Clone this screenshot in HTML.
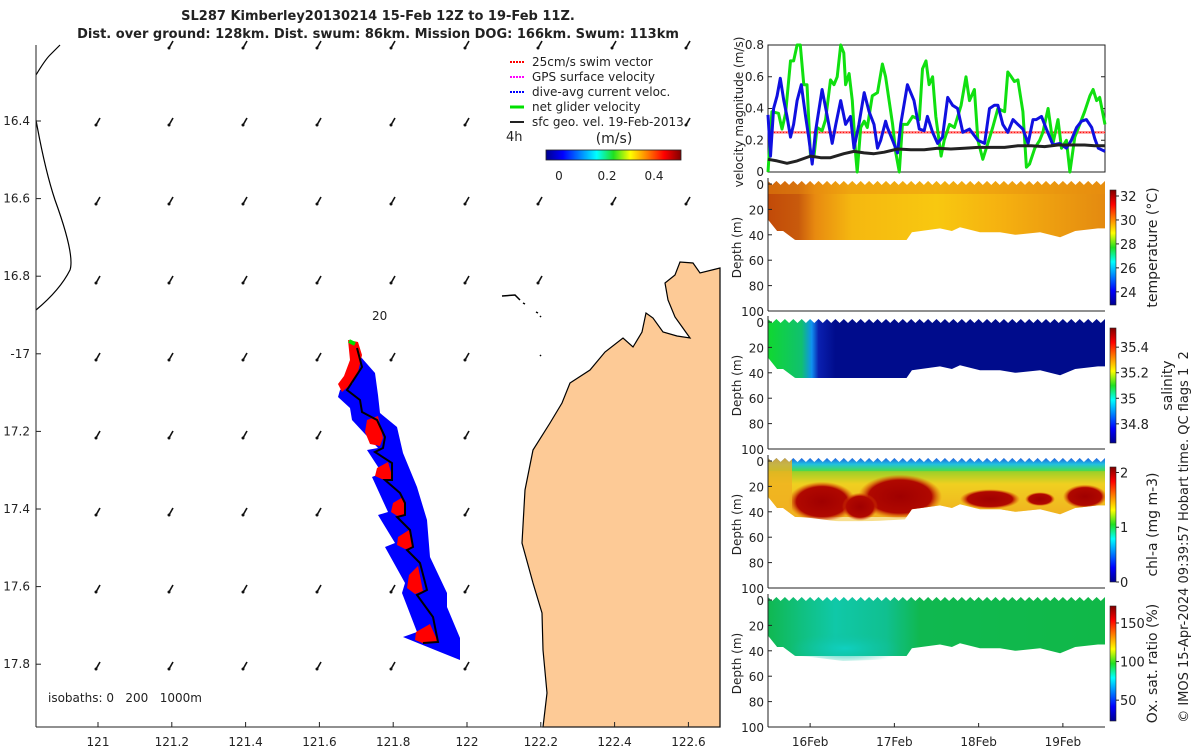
<!DOCTYPE html>
<html><head><meta charset="utf-8"><style>
body{margin:0;background:#fff;}
svg{display:block;font-family:"DejaVu Sans","Liberation Sans",sans-serif;}
text{fill:#222;}
</style></head><body>
<svg id="s" width="1200" height="750" viewBox="0 0 1200 750">
<defs>
<linearGradient id="jetV" x1="0" y1="1" x2="0" y2="0">
<stop offset="0" stop-color="#00008f"/><stop offset="0.125" stop-color="#0000ff"/><stop offset="0.375" stop-color="#00ffff"/><stop offset="0.5" stop-color="#20e020"/><stop offset="0.625" stop-color="#ffff00"/><stop offset="0.875" stop-color="#ff0000"/><stop offset="1" stop-color="#800000"/></linearGradient>
<linearGradient id="jetH" x1="0" y1="0" x2="1" y2="0">
<stop offset="0" stop-color="#00008f"/><stop offset="0.125" stop-color="#0000ff"/><stop offset="0.375" stop-color="#00ffff"/><stop offset="0.5" stop-color="#20e020"/><stop offset="0.625" stop-color="#ffff00"/><stop offset="0.875" stop-color="#ff0000"/><stop offset="1" stop-color="#800000"/></linearGradient>
<linearGradient id="tempG" x1="0" y1="0" x2="1" y2="0">
<stop offset="0" stop-color="#c24a08"/><stop offset="0.09" stop-color="#c85a0c"/><stop offset="0.14" stop-color="#e88a10"/><stop offset="0.25" stop-color="#f5b810"/><stop offset="0.5" stop-color="#f8c810"/><stop offset="0.7" stop-color="#f5b010"/><stop offset="1" stop-color="#e48a10"/></linearGradient>
<linearGradient id="salG" x1="0" y1="0" x2="1" y2="0">
<stop offset="0" stop-color="#10d830"/><stop offset="0.1" stop-color="#10c070"/><stop offset="0.13" stop-color="#1090f0"/><stop offset="0.15" stop-color="#0a20b0"/><stop offset="0.2" stop-color="#000c8c"/><stop offset="1" stop-color="#000c8c"/></linearGradient>
<linearGradient id="chlG" x1="0" y1="0" x2="0" y2="1">
<stop offset="0" stop-color="#2050e0"/><stop offset="0.12" stop-color="#20c0e0"/><stop offset="0.25" stop-color="#50e030"/><stop offset="0.45" stop-color="#f0e020"/><stop offset="1" stop-color="#f0a020"/></linearGradient>
<linearGradient id="oxG" x1="0" y1="0" x2="1" y2="0">
<stop offset="0" stop-color="#10b850"/><stop offset="0.1" stop-color="#10c080"/><stop offset="0.2" stop-color="#10c8a8"/><stop offset="0.35" stop-color="#10c090"/><stop offset="0.45" stop-color="#10b850"/><stop offset="1" stop-color="#10b848"/></linearGradient>
<radialGradient id="redB"><stop offset="0" stop-color="#a00000"/><stop offset="0.75" stop-color="#b00800"/><stop offset="1" stop-color="#e05000" stop-opacity="0"/></radialGradient>
<radialGradient id="oxB"><stop offset="0" stop-color="#10d0c0"/><stop offset="1" stop-color="#10c0a0" stop-opacity="0"/></radialGradient>
</defs>
<g id="title">
<text x="378" y="20" text-anchor="middle" font-size="13" font-weight="bold">SL287 Kimberley20130214 15-Feb 12Z to 19-Feb 11Z.</text>
<text x="378" y="38" text-anchor="middle" font-size="13" font-weight="bold">Dist. over ground: 128km. Dist. swum: 86km. Mission DOG: 166km. Swum: 113km</text>
</g>
<g id="map">
<path d="M720,268 L700,273 L693,263 L680,262 L675,275 L665,283 L668,300 L675,317 L690,338 L677,336 L663,332 L653,318 L646,313 L642,332 L633,347 L623,338 L605,352 L590,370 L570,383 L562,403 L550,423 L533,450 L525,490 L522,543 L533,583 L542,613 L543,650 L547,693 L543,727 L720,727 Z" fill="#fdca96" stroke="#000" stroke-width="1.2"/>
<path d="M502,296 L515,295 L520,300 M523,303 l2,1 M536,312 l2,1 M540,316 l1,1 M540,355 l1,1" stroke="#000" stroke-width="1.5" fill="none"/>
<path d="M36,75 Q45,60 50,55 L60,45" stroke="#000" fill="none" stroke-width="1.2"/>
<path d="M36,120 Q45,170 55,200 Q75,255 70,270 Q60,290 36,310" stroke="#000" fill="none" stroke-width="1.2"/>
<g id="arrows"></g>
<polygon points="353,348 375,373 378,395 380,413 397,427 403,453 417,487 427,520 430,557 447,593 447,607 460,638 460,660 440,652 403,637 417,632 402,593 405,583 385,547 395,543 378,515 388,512 372,477 382,473 367,450 378,448 352,420 350,408 338,397 340,390 353,383" fill="#0000ff"/>
<g fill="#ff0000">
<polygon points="348,340 358,342 362,355 358,372 350,385 342,392 338,384 344,376 350,360"/>
<polygon points="367,420 378,416 383,438 380,446 370,444 365,432"/>
<polygon points="377,468 388,462 393,479 386,481 375,476"/>
<polygon points="393,503 403,497 406,515 399,517 391,512"/>
<polygon points="398,537 409,530 413,548 405,549 397,545"/>
<polygon points="409,575 418,566 423,591 415,594 407,588"/>
<polygon points="416,632 430,624 438,642 425,644 415,640"/>
</g>
<path d="M349,341 L355,344" stroke="#00e000" stroke-width="4"/>
<polyline points="357,348 362,367 347,390 360,400 362,412 377,420 385,437 383,448 375,452 392,463 392,480 385,480 400,493 405,503 405,515 397,517 410,530 413,547 407,550 420,563 427,590 417,595 433,617 438,642 423,643" fill="none" stroke="#000" stroke-width="2"/>
<line x1="36" y1="45" x2="36" y2="727" stroke="#222"/>
<line x1="36" y1="727" x2="720" y2="727" stroke="#222"/>
<g id="mapticks" font-size="12"></g>
<text x="372" y="320" font-size="12">20</text>
<text x="48" y="702" font-size="12" xml:space="preserve" style="white-space:pre">isobaths: 0   200   1000m</text>
<g font-size="12">
<line x1="510" y1="62" x2="524" y2="62" stroke="#ff0000" stroke-width="2" stroke-dasharray="2,1"/><text x="532" y="66">25cm/s swim vector</text>
<line x1="510" y1="77" x2="524" y2="77" stroke="#ff00ff" stroke-width="2" stroke-dasharray="2,1"/><text x="532" y="81">GPS surface velocity</text>
<line x1="510" y1="92" x2="524" y2="92" stroke="#0000ff" stroke-width="2" stroke-dasharray="2,1"/><text x="532" y="96">dive-avg current veloc.</text>
<line x1="510" y1="107" x2="524" y2="107" stroke="#00e000" stroke-width="3"/><text x="532" y="111">net glider velocity</text>
<line x1="510" y1="122" x2="524" y2="122" stroke="#222" stroke-width="2"/><text x="532" y="126">sfc geo. vel. 19-Feb-2013</text>
<text x="506" y="141" font-size="13">4h</text>
<text x="614" y="143" text-anchor="middle" font-size="14">(m/s)</text>
<rect x="546" y="150" width="135" height="10" fill="url(#jetH)" stroke="#222" stroke-width="0.8"/>
<text x="559" y="180" text-anchor="middle">0</text><text x="607" y="180" text-anchor="middle">0.2</text><text x="654" y="180" text-anchor="middle">0.4</text>
</g>
</g>
<g id="vel"></g>
<g id="sections"></g>
<text transform="translate(1188,537) rotate(-90)" text-anchor="middle" font-size="13" xml:space="preserve" style="white-space:pre">© IMOS 15-Apr-2024 09:39:57 Hobart time. QC flags 1  2</text>
</svg>
<script>
// ---- velocity data (hours since 15-Feb 12Z) ----
const greenH=[0,1.1,3.0,4.0,5.0,6.4,7.3,8.3,9.2,10.2,11.1,12.1,13.1,14.0,15.4,16.4,17.8,18.8,19.7,20.7,21.6,22.1,23.1,24.0,25.0,25.4,26.4,27.4,28.3,29.7,31.2,32.6,33.5,34.5,35.5,36.4,37.4,38.3,39.7,41.2,43.1,44.0,45.0,45.9,46.9,47.8,49.3,50.2,51.7,53.1,55.0,56.4,57.4,58.8,59.8,61.2,62.6,64.0,65.5,67.4,68.3,69.3,70.2,71.2,72.6,73.6,74.5,76.0,77.4,78.3,79.8,81.2,82.6,83.6,85.0,86.0,87.4,88.8,90.2,91.7,92.6,93.6,94.5,96.0];
const greenV=[0,0.38,0.37,0.27,0.37,0.7,0.7,0.8,0.8,0.55,0.55,0.1,0.1,0.28,0.26,0.33,0.58,0.55,0.6,0.8,0.75,0.55,0.62,0.45,0.1,0.0,0.28,0.32,0.28,0.48,0.5,0.68,0.6,0.45,0.3,0.12,0,0.3,0.3,0.35,0.33,0.65,0.7,0.55,0.6,0.35,0.1,0.2,0.3,0.28,0.42,0.6,0.45,0.52,0.2,0.08,0.18,0.28,0.4,0.38,0.63,0.6,0.57,0.58,0.38,0.03,0.05,0.15,0.2,0.25,0.4,0.18,0.33,0.15,0.2,0.0,0.22,0.3,0.38,0.48,0.52,0.45,0.47,0.3];
const blueH=[0,0.7,1.6,2.6,3.5,4.5,5.4,6.4,7.3,8.3,9.5,10.7,11.6,12.6,13.5,15.4,16.9,18.3,19.3,20.7,22.1,23.5,24.5,25.9,27.4,28.8,30.2,31.2,32.1,33.5,34.0,35.5,36.9,37.8,39.7,41.6,43.1,44.5,45.4,46.9,48.3,49.7,51.2,52.6,54.0,55.5,57.4,59.8,61.7,63.1,64.5,65.5,66.9,68.3,69.8,71.2,72.6,74.1,75.5,76.4,77.9,79.3,81.2,83.1,85.0,86.4,87.9,89.3,90.7,92.2,93.1,94.1,96.0];
const blueV=[0.36,0.1,0.4,0.48,0.59,0.45,0.35,0.22,0.3,0.45,0.55,0.35,0.22,0.05,0.25,0.52,0.35,0.18,0.3,0.45,0.3,0.35,0.15,0.3,0.5,0.38,0.3,0.15,0.2,0.32,0.28,0.2,0.12,0.3,0.55,0.45,0.27,0.26,0.35,0.25,0.18,0.22,0.47,0.42,0.4,0.25,0.27,0.2,0.18,0.4,0.42,0.42,0.3,0.25,0.33,0.3,0.27,0.18,0.33,0.33,0.35,0.27,0.17,0.18,0.15,0.2,0.28,0.32,0.33,0.28,0.21,0.15,0.13];
const blackH=[0,2.6,5.4,8.3,12.1,15.0,17.8,21.6,24.5,27.4,30.2,33.1,36.9,40.7,44.5,48.3,52.1,55.9,59.8,63.6,67.4,71.2,75.0,78.8,82.6,86.4,90.2,93.1,96.0];
const blackV=[0.08,0.07,0.055,0.07,0.1,0.09,0.09,0.115,0.13,0.12,0.115,0.125,0.145,0.14,0.14,0.15,0.145,0.15,0.155,0.155,0.155,0.165,0.165,0.16,0.17,0.17,0.17,0.165,0.165];
const swimSpeed=0.25;
const velTicks=[0,0.2,0.4,0.6,0.8];
const dayTicksH=[12,36,60,84];
const dayLabels=["16Feb","17Feb","18Feb","19Feb"];
// ---- section data ----
const bottomH=[0,2.6,4.3,7.7,12.5,21.4,31.9,39.0,41.0,49.0,52.4,54.7,60.4,66.1,70.4,77.5,83.2,87.5,94.0,96];
const bottomD=[28,37,37,44,45,48,47,46,38,35,37,34,38,38,40,38,42,37,35,35];
const depthTicks=[0,20,40,60,80,100];
const tempTicks=[24,26,28,30,32], tempRange=[22.9,32.5];
const salTicks=[34.8,35,35.2,35.4], salRange=[34.65,35.55];
const chlTicks=[0,1,2], chlRange=[0,2.1];
const oxTicks=[50,100,150], oxRange=[23,172];
// map
const lonTicks=[121,121.2,121.4,121.6,121.8,122,122.2,122.4,122.6];
const latTicks=[16.4,16.6,16.8,17,17.2,17.4,17.6,17.8];
const latLabels=["16.4","16.6","16.8","-17","17.2","17.4","17.6","17.8"];

const NS="http://www.w3.org/2000/svg";
function mk(tag,attrs,parent){const e=document.createElementNS(NS,tag);for(const k in attrs)e.setAttribute(k,attrs[k]);parent.appendChild(e);return e;}
const lonX=v=>98+(v-121)/0.2*73.8;
const latY=v=>121+(v-16.4)/0.2*77.6;
const mt=document.getElementById('mapticks');
lonTicks.forEach(v=>{const x=lonX(v);mk('line',{x1:x,y1:727,x2:x,y2:722,stroke:'#222'},mt);const t=mk('text',{x:x,y:746,'text-anchor':'middle'},mt);t.textContent=String(v);

});
latTicks.forEach((v,i)=>{const y=latY(v);mk('line',{x1:36,y1:y,x2:41,y2:y,stroke:'#222'},mt);const t=mk('text',{x:30,y:y+4,'text-anchor':'end'},mt);t.textContent=latLabels[i];

});
const ag=document.getElementById('arrows');
const rows=[45,122,201,280,357,435,512,589,666];
const cols=[98,171,245,319,393,467,540,614,688];
function onLand(x,y){if(y>=280&&x>=614)return true;if(y>=357&&x>=540)return true;return false;}
rows.forEach((y,ri)=>cols.forEach((x,ci)=>{if(onLand(x,y))return;if(ri===0&&(ci===0))return;if((ri===1)&&(ci===6||ci===7))return;
const p=mk('path',{d:`M${x+2},${y-4} L${x-2},${y+3}`,stroke:'#111','stroke-width':1.6,fill:'none'},ag);


mk('circle',{cx:x-2,cy:y+3,r:1.5,fill:'#111'},ag);}));
const vg=document.getElementById('vel');
const VX0=768,VX1=1105,VY0=45,VY1=172;
const tx=h=>VX0+h/96*(VX1-VX0);
const vy=v=>VY1-v/0.8*(VY1-VY0);
mk('rect',{x:VX0,y:VY0,width:VX1-VX0,height:VY1-VY0,fill:'none',stroke:'#222'},vg);
velTicks.forEach(v=>{mk('line',{x1:VX0,y1:vy(v),x2:VX0+4,y2:vy(v),stroke:'#222'},vg);mk('line',{x1:VX1,y1:vy(v),x2:VX1-4,y2:vy(v),stroke:'#222'},vg);
const t=mk('text',{x:VX0-4,y:vy(v)+4,'text-anchor':'end','font-size':12},vg);t.textContent=v===0?'0':v.toFixed(1);

});
const yl=mk('text',{transform:'translate(743,112) rotate(-90)','text-anchor':'middle','font-size':12},vg);yl.textContent='velocity magnitude (m/s)';


function line(H,V,col,w,name){const n=Math.min(H.length,V.length);let d='';for(let i=0;i<n;i++)d+=(i?'L':'M')+tx(H[i]).toFixed(1)+','+vy(V[i]).toFixed(1);
const p=mk('path',{d:d,stroke:col,'stroke-width':w,fill:'none','stroke-linejoin':'round'},vg);

}
const sw=mk('line',{x1:VX0,x2:VX1,y1:vy(swimSpeed),y2:vy(swimSpeed),stroke:'#ff8080','stroke-width':2.5},vg);


mk('line',{x1:VX0,x2:VX1,y1:vy(swimSpeed),y2:vy(swimSpeed),stroke:'#ff0000','stroke-width':1,'stroke-dasharray':'1,2'},vg);
line(greenH,greenV,'#10e010',3,'net-glider-velocity-line');
line(blueH,blueV,'#1010e0',3,'dive-avg-current-line');
line(blackH,blackV,'#222',3,'surface-geostrophic-line');
const sg=document.getElementById('sections');
const panels=[
 {y0:184,fill:'url(#tempG)',ticks:tempTicks,range:tempRange,label:'temperature (°C)',lx:1157,name:'temperature'},
 {y0:322,fill:'url(#salG)',ticks:salTicks,range:salRange,label:'salinity',lx:1172,name:'salinity'},
 {y0:461,fill:'url(#chlG)',ticks:chlTicks,range:chlRange,label:'chl-a (mg m-3)',lx:1157,name:'chlorophyll'},
 {y0:600,fill:'url(#oxG)',ticks:oxTicks,range:oxRange,label:'Ox. sat. ratio (%)',lx:1157,name:'oxygen'}];
panels.forEach((P,pi)=>{
 const g=mk('g',{},sg);
 
 
 const H=127;const dy=d=>P.y0+d/100*H;
 let d=`M${VX0},${dy(0)}`;
 const nb=40;for(let i=0;i<=nb;i++){const x=VX0+i*(VX1-VX0)/nb;d+=` L${x.toFixed(1)},${P.y0-3} L${(x+(VX1-VX0)/nb/2).toFixed(1)},${P.y0+1}`;}
 d+=` L${VX1},${dy(0)}`;
 for(let i=bottomH.length-1;i>=0;i--)d+=` L${tx(bottomH[i]).toFixed(1)},${dy(bottomD[i]).toFixed(1)}`;
 d+=' Z';
 const cp=mk('clipPath',{id:'cp'+pi},g);mk('path',{d:d},cp);
 const inner=mk('g',{'clip-path':`url(#cp${pi})`},g);
 mk('rect',{x:VX0,y:P.y0-4,width:VX1-VX0,height:60,fill:P.fill},inner);
 if(pi===0){mk('rect',{x:VX0,y:P.y0-4,width:VX1-VX0,height:14,fill:'#e89010',opacity:0.45},inner);}
 if(pi===2){
  mk('rect',{x:VX0,y:dy(8),width:VX1-VX0,height:50,fill:'#f0c020',opacity:0.5},inner);
  [[822,dy(32),34,20],[900,dy(28),42,22],[860,dy(36),18,14],[1085,dy(28),22,12],[990,dy(30),30,10],[1040,dy(30),15,7]].forEach(b=>mk('ellipse',{cx:b[0],cy:b[1],rx:b[2],ry:b[3],fill:'url(#redB)'},inner));
  mk('rect',{x:VX0,y:P.y0-4,width:24,height:60,fill:'#f0b020',opacity:0.8},inner);}
 if(pi===3){mk('ellipse',{cx:845,cy:dy(38),rx:55,ry:16,fill:'url(#oxB)'},inner);}
 mk('line',{x1:VX0,y1:dy(0)-6,x2:VX0,y2:dy(100),stroke:'#222'},g);
 mk('line',{x1:VX0,y1:dy(100),x2:VX1,y2:dy(100),stroke:'#222'},g);
 depthTicks.forEach(v=>{mk('line',{x1:VX0,y1:dy(v),x2:VX0+4,y2:dy(v),stroke:'#222'},g);
  const t=mk('text',{x:VX0-4,y:dy(v)+5,'text-anchor':'end','font-size':12},g);t.textContent=String(v);
  
  });
 const yt=mk('text',{transform:`translate(741,${dy(50)}) rotate(-90)`,'text-anchor':'middle','font-size':12},g);yt.textContent='Depth (m)';
 
 
 const cb0=P.y0+6,cb1=P.y0+121;
 const cy=v=>cb1-(v-P.range[0])/(P.range[1]-P.range[0])*(cb1-cb0);
 const cb=mk('rect',{x:1110,y:cb0,width:6,height:cb1-cb0,fill:'url(#jetV)',stroke:'#222','stroke-width':0.6},g);
 
 
 P.ticks.forEach(v=>{mk('line',{x1:1116,y1:cy(v),x2:1119,y2:cy(v),stroke:'#222'},g);
  const t=mk('text',{x:1120,y:cy(v)+5,'font-size':13},g);t.textContent=String(v);
  
  });
 const lt=mk('text',{transform:`translate(${P.lx},${(cb0+cb1)/2}) rotate(-90)`,'text-anchor':'middle','font-size':14},g);lt.textContent=P.label;
 
 
 if(pi===3){dayTicksH.forEach((h,i)=>{mk('line',{x1:tx(h),y1:dy(100),x2:tx(h),y2:dy(100)-4,stroke:'#222'},g);
  const t=mk('text',{x:tx(h),y:746,'text-anchor':'middle','font-size':12},g);t.textContent=dayLabels[i];
  
  });}
});
</script>
</body></html>
